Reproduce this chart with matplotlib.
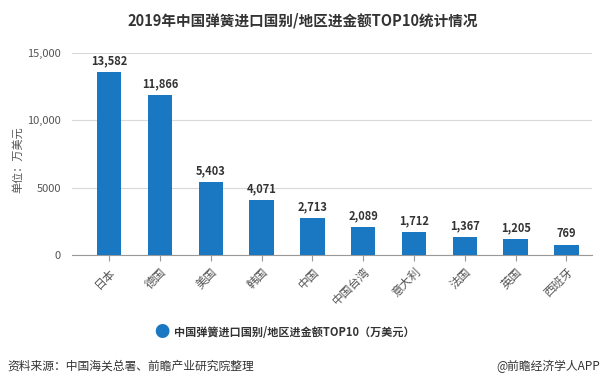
import matplotlib.pyplot as plt
import numpy as np

plt.rcParams['font.family'] = ['Noto Sans CJK SC', 'DejaVu Sans']

countries = ["日本", "德国", "美国", "韩国", "中国", "中国台湾", "意大利", "法国", "英国", "西班牙"]
values = [13582, 11866, 5403, 4071, 2713, 2089, 1712, 1367, 1205, 769]
ytick_vals = [0, 5000, 10000, 15000]
ytick_labels = ["0", "5000", "10,000", "15,000"]

bar_color = "#1a78c2"

fig = plt.figure(figsize=(6.05, 3.87), dpi=100)
ax = fig.add_axes([0.119, 0.341, 0.860, 0.522])

x = np.arange(len(countries))
ax.bar(x, values, width=0.48, color=bar_color, zorder=3)
for xi, v in zip(x, values):
    ax.text(xi, v + 350, f"{v:,}", ha="center", va="bottom", fontsize=8,
            fontweight="bold", color="#333333", zorder=4)

ax.set_xlim(-0.73, len(countries) - 0.49)
ax.set_ylim(0, 15000)
ax.set_yticks(ytick_vals)
ax.set_yticklabels(ytick_labels, fontsize=8, color="#555555")
ax.set_xticks(x)
ax.set_xticklabels(countries, rotation=45, ha="right", rotation_mode="anchor",
                   fontsize=8.5, color="#555555")
ax.grid(axis="y", color="#d9d9d9", linewidth=0.8, zorder=0)
ax.tick_params(axis="y", length=0, pad=8)
ax.tick_params(axis="x", length=4, color="#999999")
for s in ["top", "right", "left"]:
    ax.spines[s].set_visible(False)
ax.spines["bottom"].set_color("#999999")
ax.set_ylabel("单位：万美元", fontsize=8, color="#555555")
ax.yaxis.set_label_coords(-0.094, 0.47)

fig.text(0.5, 0.948, "2019年中国弹簧进口国别/地区进金额TOP10统计情况", ha="center",
         va="center", fontsize=10.5, fontweight="bold", color="#333333")

fig.text(0.268, 0.14, "●", ha="center", va="center", fontsize=11, color=bar_color)
fig.text(0.288, 0.14, "中国弹簧进口国别/地区进金额TOP10（万美元）", ha="left",
         va="center", fontsize=8, fontweight="bold", color="#333333")

fig.text(0.012, 0.054, "资料来源：中国海关总署、前瞻产业研究院整理", ha="left",
         va="center", fontsize=8.5, color="#333333")
fig.text(0.992, 0.054, "@前瞻经济学人APP", ha="right", va="center",
         fontsize=8.5, color="#333333")

fig.savefig("out.png", dpi=100)
